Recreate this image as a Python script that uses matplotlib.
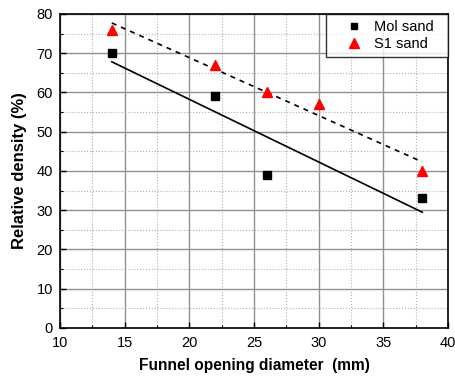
import numpy as np
import matplotlib
matplotlib.use("Agg")
import matplotlib.pyplot as plt
from matplotlib.ticker import MultipleLocator

plt.rcParams['font.family'] = ['Liberation Sans', 'DejaVu Sans']

# data
mol_x = [14, 22, 26, 38]
mol_y = [70, 59, 39, 33]
s1_x = [14, 22, 26, 30, 38]
s1_y = [76, 67, 60, 57, 40]

fig = plt.figure(figsize=(4.55, 3.77), dpi=100)
ax = fig.add_axes([0.132, 0.130, 0.853, 0.833])

# linear fits
for xs, ys, ls in [(mol_x, mol_y, '-'), (s1_x, s1_y, (0, (3, 3)))]:
    p = np.polyfit(xs, ys, 1)
    xx = np.array([min(xs), max(xs)])
    ax.plot(xx, np.polyval(p, xx), color='black', linestyle=ls, linewidth=1.2, zorder=3)

ax.plot(mol_x, mol_y, linestyle='none', marker='s', markersize=5.5, color='black', label='Mol sand', zorder=4)
ax.plot(s1_x, s1_y, linestyle='none', marker='^', markersize=7.5, color='red', label='S1 sand', zorder=4)

ax.set_xlim(10, 40)
ax.set_ylim(0, 80)
ax.xaxis.set_major_locator(MultipleLocator(5))
ax.xaxis.set_minor_locator(MultipleLocator(2.5))
ax.yaxis.set_major_locator(MultipleLocator(10))
ax.yaxis.set_minor_locator(MultipleLocator(5))

ax.grid(which='major', color='#909090', linewidth=1.0, linestyle='-')
ax.grid(which='minor', color='#b0b0b0', linewidth=0.8, linestyle=':')
ax.set_axisbelow(True)

ax.tick_params(which='both', direction='in', top=False, right=False, labelsize=10.5)
ax.tick_params(which='major', length=4, width=1.0)
ax.tick_params(which='minor', length=2, width=0.8)
ax.tick_params(axis='x', pad=5.5)
ax.tick_params(axis='y', pad=5)
for s in ax.spines.values():
    s.set_linewidth(1.2)

ax.set_xlabel('Funnel opening diameter  (mm)', fontsize=11.2, fontweight='bold', labelpad=6)
ax.set_ylabel('Relative density (%)', fontsize=12, fontweight='bold', labelpad=7)

leg = ax.legend(loc='upper right', bbox_to_anchor=(0.686, 0, 0.314, 1.0), mode='expand',
                fontsize=10.5, frameon=True, fancybox=False, edgecolor='black',
                borderaxespad=0, borderpad=0.42, handlelength=3.0, handletextpad=-0.12,
                labelspacing=0.2, markerscale=0.9)
leg.get_frame().set_linewidth(1.0)

fig.savefig('out.png', dpi=100)
